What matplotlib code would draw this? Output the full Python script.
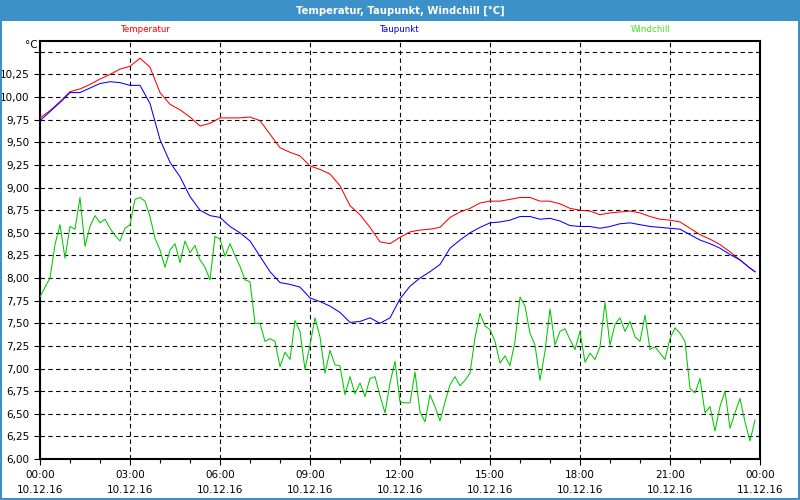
import matplotlib
matplotlib.use("Agg")
import matplotlib.pyplot as plt
import matplotlib.dates as mdates
from matplotlib.patches import Rectangle
import pandas as pd

# Windchill, sampled every 10 minutes from 10.12.16 00:00
windchill = [
    7.79, 7.90, 8.00, 8.37, 8.59, 8.22, 8.57, 8.54, 8.89, 8.35, 8.57, 8.69,
    8.61, 8.65, 8.55, 8.47, 8.41, 8.55, 8.59, 8.87, 8.89, 8.85, 8.68, 8.44,
    8.31, 8.12, 8.31, 8.38, 8.17, 8.41, 8.28, 8.36, 8.20, 8.12, 7.98, 8.46,
    8.43, 8.24, 8.38, 8.25, 8.13, 7.98, 7.96, 7.50, 7.50, 7.30, 7.33, 7.30,
    7.02, 7.18, 7.10, 7.53, 7.41, 6.99, 7.26, 7.56, 7.35, 6.95, 7.20, 7.04,
    7.03, 6.71, 6.91, 6.72, 6.84, 6.69, 6.89, 6.91, 6.70, 6.51, 6.84, 7.08,
    6.63, 6.62, 6.62, 6.96, 6.52, 6.41, 6.71, 6.58, 6.42, 6.63, 6.82, 6.91,
    6.81, 6.87, 6.95, 7.34, 7.61, 7.47, 7.43, 7.30, 7.06, 7.14, 7.03, 7.30,
    7.79, 7.69, 7.39, 7.26, 6.87, 7.19, 7.66, 7.26, 7.41, 7.44, 7.32, 7.21,
    7.41, 7.07, 7.17, 7.10, 7.24, 7.73, 7.26, 7.49, 7.56, 7.41, 7.52, 7.35,
    7.30, 7.59, 7.21, 7.24, 7.17, 7.10, 7.33, 7.45, 7.39, 7.30, 6.78, 6.73,
    6.89, 6.51, 6.58, 6.31, 6.58, 6.75, 6.34, 6.51, 6.67, 6.41, 6.20, 6.43,
]

# Temperatur and Taupunkt, sampled every 20 minutes plus the last reading at 23:50
temperatur = [
    9.77, 9.85, 9.95, 10.06, 10.09, 10.14, 10.20, 10.25, 10.31, 10.34, 10.43, 10.33,
    10.05, 9.92, 9.86, 9.78, 9.68, 9.71, 9.77, 9.77, 9.77, 9.78, 9.74, 9.59,
    9.44, 9.39, 9.35, 9.24, 9.20, 9.15, 9.02, 8.80, 8.70, 8.56, 8.40, 8.38,
    8.45, 8.51, 8.53, 8.54, 8.56, 8.67, 8.73, 8.77, 8.83, 8.85, 8.85, 8.87,
    8.89, 8.89, 8.85, 8.85, 8.82, 8.77, 8.75, 8.74, 8.70, 8.72, 8.73, 8.74,
    8.72, 8.68, 8.65, 8.64, 8.62, 8.55, 8.48, 8.43, 8.37, 8.29, 8.20, 8.11,
    8.07,
]
taupunkt = [
    9.74, 9.84, 9.94, 10.05, 10.05, 10.10, 10.15, 10.17, 10.16, 10.13, 10.13, 9.93,
    9.53, 9.28, 9.12, 8.90, 8.75, 8.69, 8.67, 8.57, 8.50, 8.41, 8.24, 8.07,
    7.95, 7.93, 7.90, 7.78, 7.74, 7.69, 7.62, 7.51, 7.52, 7.56, 7.50, 7.56,
    7.77, 7.91, 8.00, 8.07, 8.15, 8.33, 8.42, 8.50, 8.56, 8.61, 8.62, 8.64,
    8.68, 8.68, 8.65, 8.66, 8.63, 8.58, 8.57, 8.57, 8.55, 8.57, 8.60, 8.61,
    8.59, 8.57, 8.56, 8.55, 8.54, 8.48, 8.42, 8.38, 8.33, 8.26, 8.20, 8.11,
    8.07,
]

y_ticks = [6.00, 6.25, 6.50, 6.75, 7.00, 7.25, 7.50, 7.75, 8.00, 8.25,
           8.50, 8.75, 9.00, 9.25, 9.50, 9.75, 10.00, 10.25, 10.50]

start = pd.Timestamp("2016-12-10 00:00")
end = pd.Timestamp("2016-12-11 00:00")
t_wc = pd.date_range(start, periods=len(windchill), freq="10min")
t_rb = list(pd.date_range(start, periods=len(temperatur) - 1, freq="20min")) + [
    pd.Timestamp("2016-12-10 23:50")
]

plt.rcParams["font.family"] = ["DejaVu Sans"]

fig = plt.figure(figsize=(8, 5), dpi=100, facecolor="white")

# title bar and window frame
fig.patches.append(Rectangle((0, 0.958), 1, 0.042, transform=fig.transFigure,
                             facecolor="#3d91c9", edgecolor="none", zorder=0))
fig.patches.append(Rectangle((0.001, 0.002), 0.998, 0.996, transform=fig.transFigure,
                             facecolor="none", edgecolor="#3d91c9", linewidth=1.5))
fig.text(0.5, 0.979, "Temperatur, Taupunkt, Windchill [°C]", color="white",
         ha="center", va="center", fontsize=7.2, fontweight="bold")

ax = fig.add_axes([0.05, 0.082, 0.90, 0.836])
ax.set_facecolor("white")

ax.plot(t_rb, temperatur, color="#ff0000", linewidth=0.75, zorder=3)
ax.plot(t_rb, taupunkt, color="#0000ff", linewidth=0.75, zorder=3)
ax.plot(t_wc, windchill, color="#00c800", linewidth=0.75, zorder=3)

ax.set_xlim(start, end)
ax.set_ylim(6.0, 10.62)
ax.set_yticks(y_ticks)
ax.set_yticklabels([f"{v:.2f}".replace(".", ",") if v < 10.5 else "" for v in y_ticks])

ax.xaxis.set_major_locator(mdates.HourLocator(byhour=range(0, 24, 3)))
ax.xaxis.set_minor_locator(mdates.HourLocator())
ax.xaxis.set_major_formatter(mdates.DateFormatter("%H:%M\n%d.%m.%y"))

ax.grid(True, which="major", color="black", linestyle=(0, (4, 3)), linewidth=0.8)
ax.tick_params(axis="both", which="major", labelsize=7.5, length=4, width=0.8,
               colors="black")
ax.tick_params(axis="x", which="minor", length=3, width=0.8)
ax.tick_params(axis="x", which="major", pad=4)
for lbl in ax.get_xticklabels():
    lbl.set_linespacing(1.55)

for side in ["left", "bottom", "top", "right"]:
    ax.spines[side].set_linewidth(1.5)

fig.text(0.047, 0.91, "°C", ha="right", va="center", fontsize=7.5)
fig.text(0.181, 0.94, "Temperatur", color="#ff0000", ha="center", va="center", fontsize=6.3)
fig.text(0.498, 0.94, "Taupunkt", color="#0000ff", ha="center", va="center", fontsize=6.3)
fig.text(0.813, 0.94, "Windchill", color="#44dd22", ha="center", va="center", fontsize=6.3)

fig.savefig("out.png", dpi=100, facecolor="white")
